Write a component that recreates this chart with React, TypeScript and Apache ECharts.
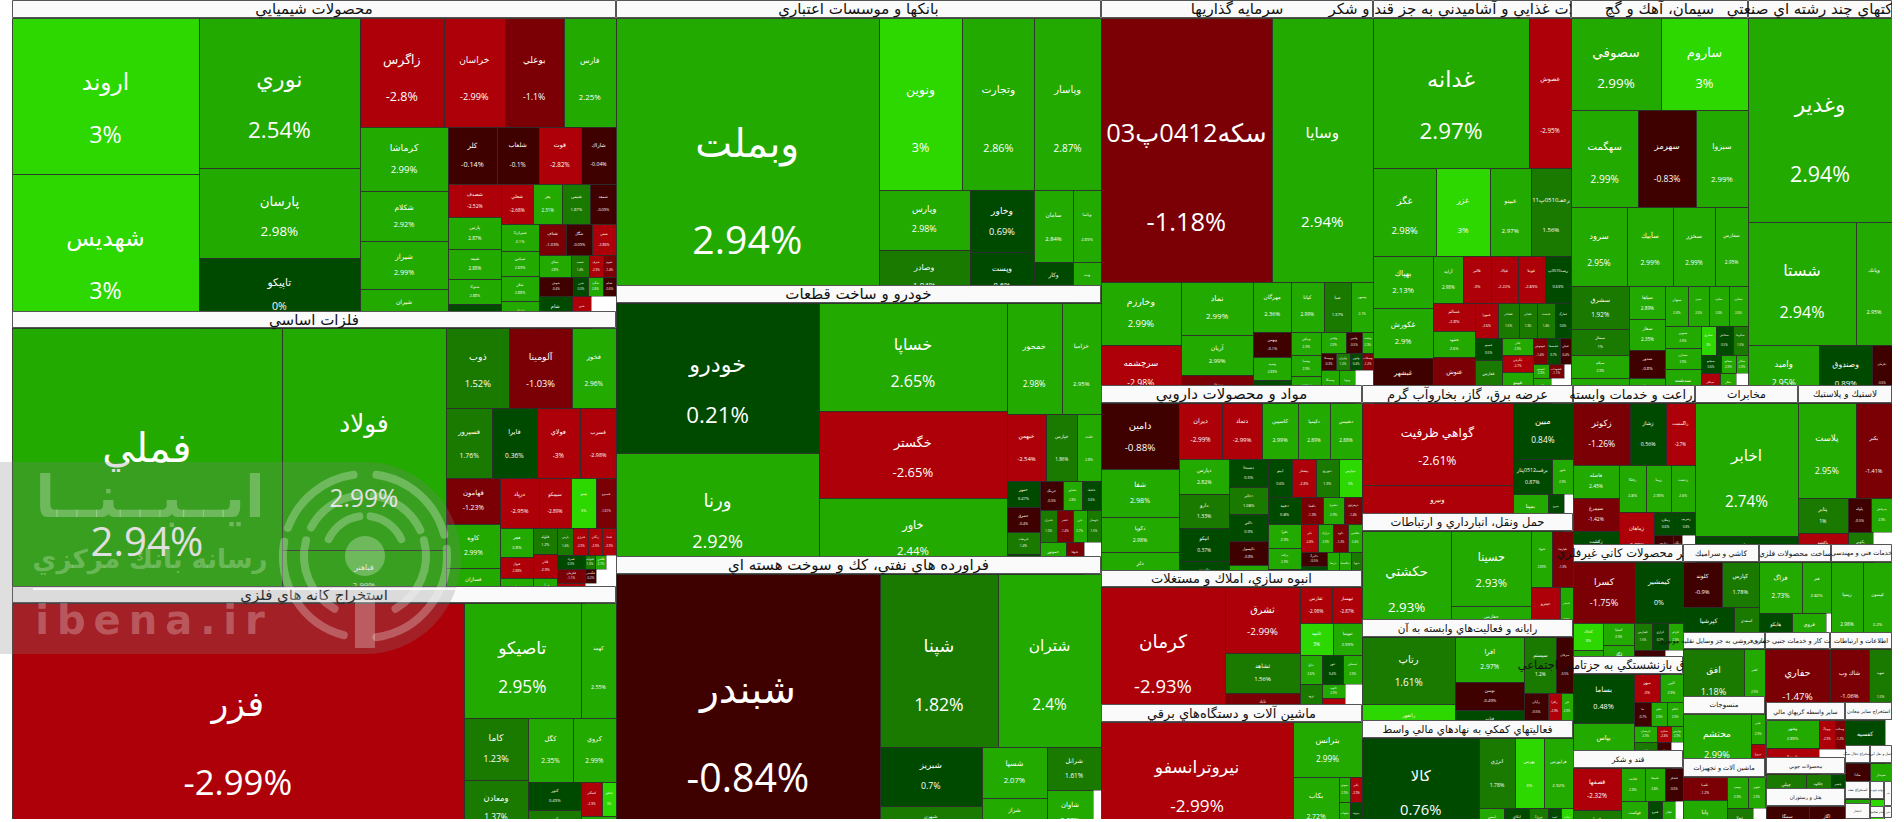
import React, { useEffect, useRef } from "react";
import * as echarts from "echarts";

// ---------- data: ticker names, tile sizes (market weight), change % ----------
const chemNames = ["اروند","شهديس","نوري","پارسان","تاپيكو","زاگرس","خراسان","بوعلي","فارس","كرماشا","شكلام","شيراز","شيران","كلر","شلعاب","قوت","شاراك","شصدف","پارس","شبند","شتوكا","ماشين","شعلي","بعر","شيمي","شمعد","شيران2","شپاس","شلار","شفار","شتاف","شگل","شفن","ميثاق","شمپ","شرف","شوم","شوش","شرر","شگرد","شنام","شام","شبن",""];
const chemSizes = [19840,19840,16500,9880,7800,6230,4540,4360,3900,3870,3000,2920,2400,1880,1645,1645,1360,1210,1144,1100,920,900,860,800,760,700,680,650,640,700,600,550,520,480,270,200,200,440,190,180,170,756,448,560];
const chemChanges = [3,3,2.54,2.98,0,-2.8,-2.99,-1.1,2.25,2.99,2.92,2.99,2.9,-0.14,-0.1,-2.82,-0.04,-2.52,2.87,2.88,2.88,0.3,-2.68,2.31,1.87,-0.09,2.1,2.89,2.88,2.9,-1.03,-0.09,-2.86,2.8,1.4,-2.9,-1.4,-0.4,0.3,2.8,-0.6,0.3,-2.9,null];

const metalNames = ["فملي","فولاد","فباهنر","ذوب","آلومينا","فخوز","فسپرور","فايرا","فولاي","فسرب","فهامون","كاوه","فسازان","درپاد","سيمكو","هيتو","فسبزو","فجر","فنوال","فجام","فلوله","فاذر","فرآور","پارس","فنرژي","زنگان","فپنتا","فمراد","فتوليد","فلامي","","فكرمان","فگستر","","فروس",""];
const metalSizes = [73158,36023,8639,4992,4914,3510,3170,3060,3000,2480,2440,2385,1855,1900,1610,1235,985,940,680,790,610,580,600,420,390,360,360,375,150,150,135,400,160,290,525,609];
const metalChanges = [2.94,2.99,2.99,1.52,-1.03,2.96,1.76,0.36,-3,-2.98,-1.23,2.99,2.99,-2.95,-2.89,3,-1.61,2.8,-2.88,2.9,1.2,-2.9,2.9,1.4,-2.9,-2.9,-2.9,0.3,1.3,2.7,null,-1.1,-0.2,null,-2.9,null];

const extractNames = ["فزر","تاصيكو","كهمد","كاما","ومعادن","كگل","كروي","كنور","كپور","كمنگنز","كبافق","كيمو"];
const extractSizes = [105316,13525,4060,3965,3640,2816,2750,1480,1380,714,476,700];
const extractChanges = [-2.99,2.95,2.55,1.23,1.37,2.35,2.99,0.49,1.3,-2.9,3,2.9];

const bankNames = ["وبملت","ونوين","وتجارت","وپاسار","وپارس","وصادر","وخاور","وپست","سامان","وپاسا","وكار","وب"];
const bankSizes = [74955,14448,12384,11524,5428,4876,3968,3264,2808,2016,1600,1148];
const bankChanges = [2.94,3,2.86,2.87,2.98,1.04,0.69,0.6,2.84,2.89,0.8,2.9];

const autoNames = ["خودرو","ورنا","خساپا","خگستر","خاور","خمحور","خزاميا","خبهمن","خپارس","خلنت","خمهر","خشرق","خريخت","خكار","خرينگ","خفناور","خكمك","خديزل","خفنر","خزر","خوساز","خموتور","ختوقا",""];
const autoSizes = [30247,24563,20084,16269,14212,6104,4360,2640,2046,1584,884,816,734,680,650,550,550,530,490,450,450,830,560,560];
const autoChanges = [0.21,2.92,2.65,-2.65,2.44,2.98,2.95,-2.54,1.86,2.8,0.47,-0.4,1.4,0.8,-0.3,2.8,0.6,1.3,-1.4,2.7,1.5,2.8,-1.1,null];

const refineryNames = ["شبندر","شپنا","شتران","شبريز","شبهرن","شسپا","شراز","شرانل","شاوان",""];
const refinerySizes = [69432,20414,17819,6018,3162,3350,2560,2322,2160,376];
const refineryChanges = [-0.84,1.82,2.4,0.7,1.3,2.07,2.7,1.61,2.07,null];

const investNames = ["سكه0412پ03","وسايا","وخارزم","سرچشمه","نماد","آريان","وبوعلي","مهرگان","كيانا","صبا","وسپهر","وبهمن","وسپه","وكغدير","ونيكي","وسينا","ومعدن","وغدير","وامين","ونفت","وتوسكا","وايران","ولبهن","وسكاب","وسمگا","وپويا",""];
const investSizes = [44540,26462,4992,4602,3834,2911,1988,1862,1617,1372,1078,936,864,864,684,648,800,506,352,220,252,234,216,180,578,544,578];
const investChanges = [-1.18,2.94,2.99,-2.98,2.99,2.99,-1.2,2.36,2.99,1.37,2.1,-0.1,2.89,0.7,2.9,2.9,2.9,2.9,-0.5,2.9,-0.3,1.2,0.4,-1.2,2.9,2.9,null];

const foodNames = ["غدانه","غصوش","غگز","غزر","غبينو","رعفـ0510پ11","بهپاك","غكورش","غبشهر","آرايه","غالبر","غپاك","غويتا","رصد0510پ","غسالم","غشهد","غنوش","غمهرا","غشاذر","غشان","غدشت","غمارگ","غمينو","غفارس","غاذر","غگرجي","غپينو","غبهنوش","غشصفا","غنيلي","غصينو","غشهداب","","غگل",""];
const foodSizes = [23400,6300,5544,4664,3608,3520,3120,3000,2700,1410,1269,1269,1269,1222,1176,1092,1900,805,735,630,630,560,594,1161,527,527,960,364,340,290,210,196,100,450,500];
const foodChanges = [2.97,-2.95,2.98,3,2.97,1.56,2.13,2.9,-0.7,2.98,-3,-2.22,-2.89,0.63,-2.8,2.6,-1.4,-2.6,1.5,1.3,1.4,0.6,0.5,1.2,2.9,-2.7,2.8,-1.4,0.7,-0.4,2.9,-1.1,null,2,null];

const cementNames = ["سصوفي","ساروم","سهگمت","سهرمز","سبزوا","سرود","سآبيك","سخزر","سفارس","سشرق","سمتاز","سيلام","سغرب","سپاها","سفار","سدور","سيتا","سبهان","سنير","سكرد","سقاين","سنوين","سمازن","سدشت","ساذري","سخاش","سكرما","سبجنو","سفانو","سكار","سباقر","سلار",""];
const cementSizes = [8280,8004,6499,5529,5044,4424,3634,3318,2607,2494,1508,1334,1450,1147,1110,999,900,920,800,800,760,770,735,1190,450,480,450,360,252,216,580,493,348];
const cementChanges = [2.99,3,2.99,-0.83,2.99,2.95,2.99,2.99,2.95,1.92,1,2.9,2.9,2.89,2.35,-0.8,2.9,2.6,2.6,2.6,2.6,2.6,2.9,2.9,3,0.5,1.5,0.6,2.9,2.9,-2.7,2.9,null];

const multiNames = ["وغدير","شستا","وپانك","واميد","وصندوق","پكرمان"];
const multiSizes = [29376,13284,4428,4118,3016,1160];
const multiChanges = [2.94,2.94,2.95,2.95,0.89,-0.6];

const pharmaNames = ["دامين","شفا","دكوپا","دلر","ديران","دتماد","كاسپين","دكيميا","دشيمي","دپارس","دارو","انيكو","داسوه","دسبحا","دجابر","دالبر","دكپسول","دفارا","ابيتو","پيشتاز","دتوزيع","ديپارس","دعبيد","دلقما","دشيرا","دزهراوي","دفرا","برکت","دتوليد","دلبر","درازک","داوه","دقاضي","دالبر2","دكوثر","درسا","دپلاسما","دپويا"];
const pharmaSizes = [5148,3744,2730,2808,2408,2240,2016,1792,1792,1750,1700,1650,1350,1092,1053,1014,936,900,912,874,874,874,891,594,567,486,800,693,620,476,420,420,392,364,572,432,432,396];
const pharmaChanges = [-0.88,2.98,2.98,2.9,-2.99,-2.99,2.99,2.89,2.88,2.82,1.33,0.37,0.4,0.5,1.08,0.9,-0.8,2.9,0.6,-2.8,1.9,3,0.8,-1.3,2.9,-1.4,2.9,2.9,0.5,-2.8,2.9,-1.2,2.4,-0.5,0.8,2.9,2.8,1.3];

const energyNames = ["گواهي ظرفيت","ونيرو","مبين","برقت0512پثار","خنور","بمپنا","بنيرو",""];
const energySizes = [12300,6900,3360,1365,735,1295,592,333];
const energyChanges = [-2.61,-2.9,0.84,0.87,2.9,2.9,0.6,null];

const transportNames = ["حكشتي","حسينا","حفارس","حتوك","حپارسا","حپترو","حبندر"];
const transportSizes = [9434,6000,2480,1155,1155,1428,663];
const transportChanges = [2.93,2.93,2.9,2.89,-1.3,-2.89,2.9];

const computerNames = ["رتاپ","رانفور","افرا","توسن","فناپ","سيستم","مبرقان","رايان","رافزا","فن","سپيد","پرداخت","رهوش"];
const computerSizes = [5896,2992,2925,1820,1820,1702,874,621,345,322,378,210,196];
const computerChanges = [1.61,3,2.97,-0.49,0.5,1.2,-0.5,-0.5,-2.9,2.9,2.8,1.3,0.6];

const supportNames = ["كالا","انرژي","بهرس","فرابورس","ايمني","اتكاي","نوري2","اميد","ثبات"];
const supportSizes = [11583,2450,2030,2030,725,725,551,377,348];
const supportChanges = [0.76,1.78,3,2.92,2.9,0.6,1.5,0.7,3];

const realEstateNames = ["كرمان","ثشرق","ثشاهد","ثاباد","ثفارس","ثبهساز","ثاميد","ثتوسا","ثباغ","ثنور","ثمسكن","ثرود","ثالوند","ثعمرا",""];
const realEstateSizes = [16616,4950,3000,2100,1152,1080,1056,928,638,609,551,814,322,529,629];
const realEstateChanges = [-2.93,-2.99,1.56,-1.2,-2.98,-2.87,3,2.99,2.6,0.4,2.9,1.5,2.9,-2.9,null];

const machineryNames = ["نيروترانسفو","بترانس","بكاب","بموتو","بالبر","بشهاب","بپيوند"];
const machinerySizes = [22080,3795,2760,275,300,385,420];
const machineryChanges = [-2.99,2.99,2.72,2.9,-2.9,2.9,0.9];

const agriNames = ["زكوثر","زشاز","زاگمشت","فاصله","سيمرغ","زكشت","زفكا","زبينا","زدشت","زماهان","زملارد","زشريف","زپارس","زنگان",""];
const agriSizes = [3534,2170,1798,1518,1518,1426,1269,1175,1128,1750,529,414,500,250,357];
const agriChanges = [-1.26,0.56,-2.7,2.45,-1.42,0.8,2.8,2.99,2.6,-2.89,0.6,0.8,-0.7,-0.9,null];

const telecomNames = ["اخابر","همراه"];
const telecomSizes = [13699,2678];
const telecomChanges = [2.74,0.6];

const plasticNames = ["پلاست","بكبر","پتاير","پاكشو","پلوله","پدرخش","پكوير",""];
const plasticSizes = [5415,3420,1715,1421,805,700,754,551];
const plasticChanges = [2.95,-1.41,1,-2.9,-0.5,2.9,1.3,null];

const nonMetalNames = ["كسرا","كيمشير","كخاك","كفرا","كساپا","كگاز","كفپارس","كرازي","كترام","كلوند2",""];
const nonMetalSizes = [3720,2880,783,725,646,880,459,432,378,750,425];
const nonMetalChanges = [-1.75,0,3,2.9,2.9,2.8,1.5,0.7,2.9,-0.8,null];

const tileNames = ["كلوند","كپارس","كپرشيا","كسعدي"];
const tileSizes = [1748,1702,2184,1050];
const tileChanges = [-0.9,1.78,0.5,1.4];

const metalProductNames = ["فزاگ","فتر","هايكو","فروي",""];
const metalProductSizes = [2142,1428,1221,1221,185];
const metalProductChanges = [2.73,2.82,0.5,2.9,null];

const engineeringNames = ["ريمپا","كيسون"];
const engineeringSizes = [2816,2552];
const engineeringChanges = [2.98,2.2];

const tradeNames = ["افق","كشر"];
const tradeSizes = [3904,1344];
const tradeChanges = [1.18,2.9];

const drillingNames = ["حفاري"];
const drillingSizes = [4550];
const drillingChanges = [-1.47];

const infoNames = ["شاك وب","شهيد"];
const infoSizes = [2730,1610];
const infoChanges = [-1.06,1.5];

const insuranceNames = ["بساما","بپاس","ميهن","البرز","ما","تپكو","اتكام","پارسيان","سكرد","بهارس","بكام","دي",""];
const insuranceSizes = [2989,2745,700,644,408,384,384,368,224,192,598,364,312];
const insuranceChanges = [0.48,2.9,-3,2.9,-0.7,2.9,2.9,2.9,-2.8,2.9,1.3,-0.5,null];

const sugarNames = ["قصفها","قپيرا","قثابت","قنيشا","قشكر","قهكمت","قمرو","قچار",""];
const sugarSizes = [2016,1296,759,660,594,972,504,468,288];
const sugarChanges = [-2.32,1.5,2.8,2.8,-0.6,2.9,0.5,2.9,null];

const textileNames = ["محتشم","نخير","نبروج"];
const textileSizes = [4216,420,448];
const textileChanges = [2.99,2.9,-2.9];

const machinesNames = ["تكمبا","پايا","پپمپ","تجهيز","تپولا",""];
const machinesSizes = [966,1596,638,493,768,363];
const machinesChanges = [-1.2,2.9,2.9,2.9,1.5,null];

const financeNames = ["وشهر","وامين2","وپويا2","وسالت",""];
const financeSizes = [1431,1431,450,300,650];
const financeChanges = [2.89,-2.8,-2.9,-1.2,null];

const otherMiningNames = ["كفسيه",""];
const otherMiningSizes = [1680,294];
const otherMiningChanges = [0.7,null];

const woodNames = ["چپلي","چكاوه","چفيبر"];
const woodSizes = [1209,744,434];
const woodChanges = [1.3,1.5,0.5];

const hotelNames = ["سمگا","اگاز"];
const hotelSizes = [1302,1116];
const hotelChanges = [-0.5,-0.6];

const tinyANames = ["مادا"]; const tinyASizes = [900]; const tinyAChanges = [-0.7];
const tinyBNames = ["سپيدار"]; const tinyBSizes = [760]; const tinyBChanges = [2.9];
const tinyCNames = ["نوين"]; const tinyCSizes = [100]; const tinyCChanges = [2.9];
const tinyDNames = ["تابا"]; const tinyDSizes = [98]; const tinyDChanges = [3];

// ---------- sector titles, in the reference's spelling ----------
const sectorTitles = {
  chem: "محصولات شيميايي", metal: "فلزات اساسي", extract: "استخراج كانه هاي فلزي",
  bank: "بانكها و موسسات اعتباري", auto: "خودرو و ساخت قطعات", refinery: "فراورده هاي نفتي، كك و سوخت هسته اي",
  invest: "سرمايه گذاريها", food: "محصولات غذايي و آشاميدني به جز قند و شكر", cement: "سيمان، آهك و گچ",
  multi: "شركتهاي چند رشته اي صنعتي", pharma: "مواد و محصولات دارويي", energy: "عرضه برق، گاز، بخاروآب گرم",
  transport: "حمل ونقل، انبارداري و ارتباطات", realEstate: "انبوه سازي، املاك و مستغلات",
  computer: "رايانه و فعاليت‌هاي وابسته به آن", machinery: "ماشين آلات و دستگاه‌هاي برقي",
  support: "فعاليتهاي كمكي به نهادهاي مالي واسط", agri: "زراعت و خدمات وابسته", telecom: "مخابرات",
  plastic: "لاستيك و پلاستيك", nonMetal: "ساير محصولات كاني غيرفلزي", tile: "كاشي و سراميك",
  metalProduct: "ساخت محصولات فلزي", engineering: "خدمات فني و مهندسي",
  trade: "تجارت عمده فروشي به جز وسايل نقليه موتوري", drilling: "فعاليت كار و خدمات جنبي حفاري", info: "اطلاعات و ارتباطات",
  insurance: "بيمه وصندوق بازنشستگي به جزتامين اجتماعي", sugar: "قند و شكر", textile: "منسوجات",
  machines: "ماشين آلات و تجهيزات", finance: "ساير واسطه گريهاي مالي", otherMining: "استخراج ساير معادن",
  wood: "محصولات چوبي", hotel: "هتل و رستوران", tinyA: "استخراج ذغال سنگ", tinyB: "حمل و نقل آبي",
  tinyC: "استخراج نفت", tinyD: "توليد چوب", tinyE: "انتشار", tinyF: "ساير فعاليتها", tinyG: "مالي", tinyH: "نشر",
};

// ---------- layout: sector box [x0, x1, headerTop, tileTop, bottom], title font, and how its tiles nest.
// A nesting list alternates split direction per level; a number n is a strip of n consecutive tiles. ----------
const sectorBoxes: any[] = [
  ["chem",chemNames,chemSizes,chemChanges,[2,3,[4,[4,[4,[5,[4,[4,[3,4,4,3]]]]]]]],"h",12,616,0,18,311,15],
  ["metal",metalNames,metalSizes,metalChanges,[1,2,[3,4,[3,[4,[3,3,[4,4,3,2]]]]]],"h",12,616,311,328,586,15],
  ["extract",extractNames,extractSizes,extractChanges,[1,[2,[2,[2,[2,[2,1]]]]]],"h",12,616,586,603,819,15],
  ["bank",bankNames,bankSizes,bankChanges,[1,[3,[2,2,[2,2]]]],"h",616,1101,0,18,285,15],
  ["auto",autoNames,autoSizes,autoChanges,[2,3,[2,3,[4,[3,4,3]]]],"h",616,1101,285,303,556,15],
  ["refinery",refineryNames,refinerySizes,refineryChanges,[1,[2,[2,2,[1,2]]]],"h",616,1101,556,574,819,15],
  ["invest",investNames,investSizes,investChanges,[2,[2,3,[4,[3,3,[3,4,3]]]]],"v",1101,1373,0,18,385,15],
  ["food",foodNames,foodSizes,foodChanges,[2,4,[3,[5,[3,[5,[2,3,[3,3,2]]]]]]],"v",1373,1571,0,18,385,15],
  ["cement",cementNames,cementSizes,cementChanges,[2,3,4,[4,4,[4,[3,[3,3,3]]]]],"v",1571,1748,0,18,385,15],
  ["multi",multiNames,multiSizes,multiChanges,[1,2,3],"v",1748,1892,0,18,385,15],
  ["pharma",pharmaNames,pharmaSizes,pharmaChanges,[4,[5,[4,5,[4,4,[3,[4,[2,[3]]]]]]]],"h",1101,1362,385,403,570,15],
  ["realEstate",realEstateNames,realEstateSizes,realEstateChanges,[1,3,[2,2,3,[1,2,1]]],"h",1101,1362,570,587,704,13],
  ["machinery",machineryNames,machinerySizes,machineryChanges,[1,[1,[1,[2,2]]]],"h",1101,1362,704,722,819,13],
  ["energy",energyNames,energySizes,energyChanges,[2,[1,2,3]],"h",1362,1573,385,403,513,13],
  ["transport",transportNames,transportSizes,transportChanges,[1,2,[2,2]],"h",1362,1573,513,531,619,11.5],
  ["computer",computerNames,computerSizes,computerChanges,[2,3,[2,3,3]],"h",1362,1573,619,637,720,10.5],
  ["support",supportNames,supportSizes,supportChanges,[1,[3,5]],"h",1362,1573,720,738,819,10.5],
  ["agri",agriNames,agriSizes,agriChanges,[3,[3,[3,[1,[2,3]]]]],"v",1573,1695,385,403,544,13],
  ["telecom",telecomNames,telecomSizes,telecomChanges,[1,1],"v",1695,1798,385,403,544,11],
  ["plastic",plasticNames,plasticSizes,plasticChanges,[2,[2,[2,2]]],"v",1798,1892,385,403,544,9],
  ["nonMetal",nonMetalNames,nonMetalSizes,nonMetalChanges,[2,[2,2,[3,2]]],"v",1573,1683,544,562,656,11.5],
  ["tile",tileNames,tileSizes,tileChanges,[2,2],"v",1683,1759,544,562,632,7.5],
  ["metalProduct",metalProductNames,metalProductSizes,metalProductChanges,[2,3],"v",1759,1831,544,562,632,7.5],
  ["engineering",engineeringNames,engineeringSizes,engineeringChanges,[1,1],"h",1831,1892,544,562,632,6.5],
  ["insurance",insuranceNames,insuranceSizes,insuranceChanges,[2,[2,3,3,3]],"h",1573,1683,656,674,750,11.5],
  ["sugar",sugarNames,sugarSizes,sugarChanges,[2,[3,4]],"h",1573,1683,750,768,819,7.5],
  ["trade",tradeNames,tradeSizes,tradeChanges,[1,1],"h",1683,1765,632,649,696,6.5],
  ["textile",textileNames,textileSizes,textileChanges,[1,2],"h",1683,1765,696,714,758,7],
  ["machines",machinesNames,machinesSizes,machinesChanges,[2,[2,2]],"h",1683,1765,758,777,819,6.5],
  ["drilling",drillingNames,drillingSizes,drillingChanges,[1],"h",1765,1830,632,649,702,6.5],
  ["info",infoNames,infoSizes,infoChanges,[1,1],"h",1830,1892,632,649,702,6.5],
  ["finance",financeNames,financeSizes,financeChanges,[2,[2,1]],"h",1766,1845,702,720,757,6],
  ["otherMining",otherMiningNames,otherMiningSizes,otherMiningChanges,[1,1],"h",1845,1892,702,720,745,5],
  ["wood",woodNames,woodSizes,woodChanges,[1,1,1],"h",1766,1845,757,774,788,5],
  ["hotel",hotelNames,hotelSizes,hotelChanges,[1,1],"h",1766,1845,788,806,819,5],
  ["tinyA",tinyANames,tinyASizes,tinyAChanges,[1],"h",1845,1870,745,763,781,3.5],
  ["tinyB",tinyBNames,tinyBSizes,tinyBChanges,[1],"h",1870,1892,745,763,781,3.5],
  ["tinyC",tinyCNames,tinyCSizes,tinyCChanges,[1],"h",1845,1870,781,799,803,3.5],
  ["tinyD",tinyDNames,tinyDSizes,tinyDChanges,[1],"h",1870,1884,781,799,806,3],
  ["tinyH",[],[],[],[],"h",1884,1892,781,806,806,2],
  ["tinyE",[],[],[],[],"h",1845,1870,803,819,819,3],
  ["tinyF",[],[],[],[],"h",1870,1884,806,818,818,2.5],
  ["tinyG",[],[],[],[],"h",1884,1892,806,818,818,2],
];

const FONT = '"Open Sans","DejaVu Sans",sans-serif';
const TITLE_FONT = '"DejaVu Sans",sans-serif';

function changeColor(c: number | null) {
  if (c === null) return "#ffffff";
  if (c >= 3) return "#2cd800";
  if (c >= 2) return "#22aa00";
  if (c >= 1) return "#1a7a00";
  if (c >= 0) return "#004a00";
  if (c > -1) return "#3f0000";
  if (c > -2) return "#7a0006";
  return "#ae0008";
}

type Tile = { name: string; change: number | null; size: number; x: number; y: number; w: number; h: number };

// Rectangles follow from the sizes alone: each level shares its box in proportion to its tiles' sum.
function layoutSector(names: string[], sizes: number[], changes: (number | null)[], spec: any[], dir: string, box: number[]): Tile[] {
  const out: Tile[] = [];
  let cursor = 0;
  const count = (n: any): number => (typeof n === "number" ? n : n.reduce((a: number, c: any) => a + count(c), 0));
  const sum = (from: number, n: number) => sizes.slice(from, from + n).reduce((a, b) => a + b, 0);
  const place = (nodes: any[], d: string, x: number, y: number, w: number, h: number) => {
    const start = cursor;
    const total = sum(start, count(nodes));
    let offset = 0;
    let at = start;
    nodes.forEach((node) => {
      const n = count(node);
      const share = sum(at, n) / total;
      const rx = d === "h" ? x + offset * w : x;
      const ry = d === "v" ? y + offset * h : y;
      const rw = d === "h" ? share * w : w;
      const rh = d === "v" ? share * h : h;
      if (typeof node === "number") {
        if (n === 1) {
          out.push({ name: names[cursor], change: changes[cursor], size: sizes[cursor], x: rx, y: ry, w: rw, h: rh });
          cursor += 1;
        } else {
          place(new Array(n).fill(1), d === "h" ? "v" : "h", rx, ry, rw, rh);
        }
      } else {
        place(node, d === "h" ? "v" : "h", rx, ry, rw, rh);
      }
      offset += share;
      at += n;
    });
  };
  if (names.length) place(spec, dir, box[0], box[1], box[2], box[3]);
  return out;
}

function renderTile(t: Tile) {
  const x0 = Math.round(t.x), x1 = Math.round(t.x + t.w), y0 = Math.round(t.y), y1 = Math.round(t.y + t.h);
  const rect = {
    type: "rect",
    shape: { x: x0 + 0.5, y: y0 + 0.5, width: x1 - x0, height: y1 - y0 },
    style: t.change === null ? { fill: "#fff" } : { fill: changeColor(t.change), stroke: "rgba(45,45,45,0.85)", lineWidth: 1 },
  };
  if (t.change === null) return { type: "group", children: [rect] };
  const font = Math.max(3, Math.min(t.w, t.h) / 6.7);
  const shift = Math.max(0, 0.15 * (t.h - 60));
  const mid = t.y + t.h / 2 + shift;
  const text = (y: number, s: string) => ({
    type: "text", x: t.x + t.w / 2, y,
    style: { text: s, fill: "#fff", font: `${font}px ${FONT}`, align: "center", verticalAlign: "middle" },
  });
  return {
    type: "group",
    children: [rect, text(mid - 0.185 * t.h, t.name), text(mid + 0.155 * t.h, `${t.change}%`)],
  };
}

function buildSeries(): any[] {
  const out: any[] = [];
  sectorBoxes.forEach((s, i) => {
    const [, names, sizes, changes, spec, dir, x0, x1, top, tileTop, bottom] = s;
    if (!names.length) return;
    const tiles = layoutSector(names, sizes, changes, spec, dir, [x0, tileTop, x1 - x0, bottom - top]);
    out.push({
      type: "custom", coordinateSystem: "none", silent: true, clip: false, z: 10 + 3 * i,
      renderItem: (params: any) => renderTile(tiles[params.dataIndex]),
      data: tiles.map((t) => ({ name: t.name, value: [t.size, t.change] })),
    });
  });
  return out;
}

function buildHeaders(): any[] {
  const out: any[] = [];
  sectorBoxes.forEach((s, i) => {
    const [key, , , , , , x0, x1, top, tileTop, , font] = s;
    out.push({ type: "rect", z: 11 + 3 * i, silent: true,
      shape: { x: x0 + 0.5, y: top + 0.5, width: x1 - x0 - 1, height: tileTop - top - 1 },
      style: { fill: "#fafafa", stroke: "#555", lineWidth: 1 } });
    out.push({ type: "text", z: 12 + 3 * i, silent: true, x: (x0 + x1) / 2, y: (top + tileTop) / 2,
      style: { text: (sectorTitles as any)[key], fill: "#111", font: `${font}px ${TITLE_FONT}`, align: "center", verticalAlign: "middle" } });
  });
  return out;
}

function buildFrame(): any[] {
  const mask = { fill: "#fff" };
  return [
    { type: "rect", z: 500, silent: true, shape: { x: 0, y: 0, width: 12, height: 822 }, style: mask },
    { type: "rect", z: 500, silent: true, shape: { x: 1892, y: 0, width: 12, height: 822 }, style: mask },
    { type: "rect", z: 500, silent: true, shape: { x: 0, y: 819, width: 1904, height: 3 }, style: mask },
  ];
}

function buildWatermark(): any[] {
  const cx = 365, cy = 556, glyph = { fill: "rgba(255,255,255,0.27)" };
  const band = "rgba(128,128,128,0.25)";
  const rings: number[][] = [
    [82, 105, 190], [82, 200, 262], [82, 278, 345], [82, 355, 442],
    [61, 120, 195], [61, 208, 262], [61, 278, 335], [61, 345, 420],
    [40, 205, 262], [40, 278, 335],
  ];
  const ringEls = rings.map(([r, a, b]) => ({
    type: "arc", z: 602, silent: true,
    shape: { cx, cy, r, startAngle: (a * Math.PI) / 180, endAngle: (b * Math.PI) / 180, clockwise: true },
    style: { fill: "none", stroke: "rgba(255,255,255,0.27)", lineWidth: 8, lineCap: "round" },
  }));
  return [
    { type: "rect", z: 600, silent: true, shape: { x: 0, y: 462, width: cx, height: 192 }, style: { fill: band } },
    { type: "sector", z: 600, silent: true, shape: { cx, cy: 558, r0: 0, r: 96, startAngle: -Math.PI / 2, endAngle: Math.PI / 2, clockwise: true }, style: { fill: band } },
    { type: "rect", z: 601, silent: true, shape: { x: 33, y: 588, width: 430, height: 2 }, style: { fill: "rgba(255,255,255,0.8)" } },
    { type: "text", z: 602, silent: true, x: 150, y: 497, style: { text: "ايــبــنــا", font: `bold 58px ${TITLE_FONT}`, fill: glyph.fill, align: "center", verticalAlign: "middle" } },
    { type: "text", z: 602, silent: true, x: 150, y: 559, style: { text: "رسانه بانك مركزي", font: `bold 26px ${TITLE_FONT}`, fill: glyph.fill, align: "center", verticalAlign: "middle" } },
    { type: "text", z: 602, silent: true, x: 150, y: 620, style: { text: "i\u2009b\u2009e\u2009n\u2009a\u2009.\u2009i\u2009r", font: `bold 40px ${TITLE_FONT}`, fill: glyph.fill, align: "center", verticalAlign: "middle" } },
    { type: "circle", z: 602, silent: true, shape: { cx, cy, r: 20 }, style: glyph },
    { type: "rect", z: 602, silent: true, shape: { x: cx - 10, y: 596, width: 20, height: 52 }, style: glyph },
    ...ringEls,
  ];
}

export default function App() {
  const ref = useRef<HTMLDivElement>(null);
  useEffect(() => {
    document.body.style.margin = "0";
    const chart = echarts.init(ref.current!, undefined, { renderer: "svg" });
    chart.setOption({
      animation: false,
      backgroundColor: "#fff",
      series: buildSeries(),
      graphic: { elements: [...buildHeaders(), ...buildFrame(), ...buildWatermark()] },
    });
    return () => chart.dispose();
  }, []);
  return <div ref={ref} style={{ width: 1904, height: 822, overflow: "hidden" }} />;
}
